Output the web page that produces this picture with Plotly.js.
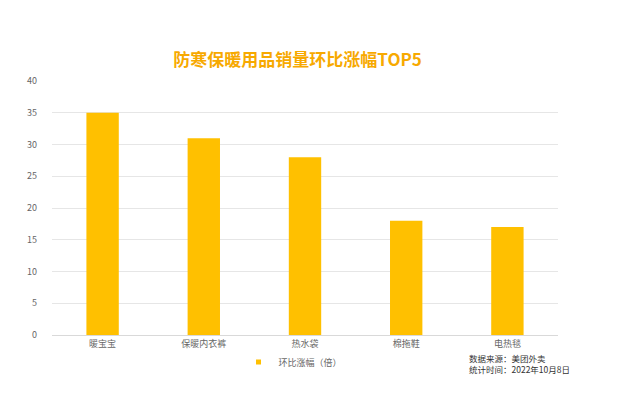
<!DOCTYPE html>
<html><head><meta charset="utf-8">
<script src="https://cdn.plot.ly/plotly-3.0.1.min.js"></script>
<style>html,body{margin:0;padding:0;background:#fff}#chart{width:620px;height:397px}</style>
</head><body><div id="chart"></div>
<script>
const categories = ["暖宝宝", "保暖内衣裤", "热水袋", "棉拖鞋", "电热毯"];
const values = [35, 31, 28, 18, 17];
const seriesName = "环比涨幅（倍）";
const yTicks = [0, 5, 10, 15, 20, 25, 30, 35, 40];

const font = '"Noto Sans CJK SC", "Noto Sans", sans-serif';
const data = [{
  type: 'bar', x: categories, y: values, name: seriesName, showlegend: false,
  marker: {color: '#FFC000'}, hoverinfo: 'none'
}, {
  type: 'scatter', mode: 'markers', x: [null], y: [null], name: seriesName, showlegend: true,
  marker: {color: '#FFC000', symbol: 'square', size: 5}, hoverinfo: 'none'
}];
const layout = {
  width: 620, height: 397,
  margin: {l: 52, r: 62, t: 81, b: 62},
  paper_bgcolor: '#fff', plot_bgcolor: '#fff',
  title: {text: '<b>防寒保暖用品销量环比涨幅TOP5</b>', x: 0.48, xanchor: 'center', y: 0.848, yanchor: 'middle',
    font: {family: font, size: 17, color: '#F7A900'}},
  bargap: 0.68,
  xaxis: {tickfont: {family: font, size: 9, color: '#666'}, showline: true, linecolor: '#d9d9d9', linewidth: 1, ticks: '', fixedrange: true, automargin: false},
  yaxis: {range: [0, 40], tickvals: yTicks, tickfont: {family: font, size: 9, color: '#666'},
    gridcolor: '#e6e6e6', zeroline: false, ticks: '', ticklen: 0, ticklabelstandoff: 14, fixedrange: true, automargin: false},
  showlegend: true,
  legend: {orientation: 'h', x: 0.4726, xanchor: 'center', xref: 'container', y: 35/397, yanchor: 'middle', yref: 'container',
    font: {family: font, size: 9, color: '#666'}, itemwidth: 30, tracegroupgap: 0},
  annotations: [
    {text: '数据来源：美团外卖<br>统计时间：2022年10月8日', xref: 'paper', yref: 'paper', x: 0.82, y: -0.058, xanchor: 'left', yanchor: 'top', align: 'left', showarrow: false, font: {family: font, size: 8.5, color: '#333'}}
  ]
};
Plotly.newPlot('chart', data, layout, {displayModeBar: false, staticPlot: true});
</script></body></html>
